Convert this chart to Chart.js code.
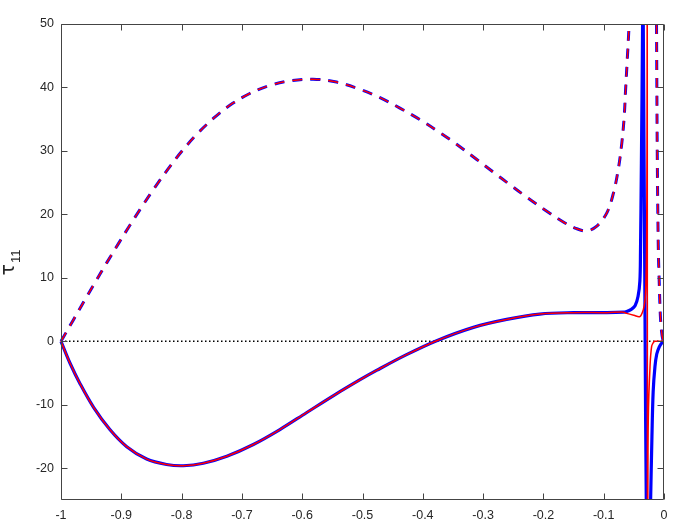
<!DOCTYPE html>
<html>
<head>
<meta charset="utf-8">
<script src="https://cdn.jsdelivr.net/npm/chart.js@4"></script>
<style>
  body { margin: 0; background: #fff; }
  canvas { display: block; }
</style>
</head>
<body>
<canvas id="chartTau" width="682" height="532"></canvas>
<script>
/*-------------------
    DATA
--------------------*/
const xTicks = [-1, -0.9, -0.8, -0.7, -0.6, -0.5, -0.4, -0.3, -0.2, -0.1, 0];
const yTicks = [-20, -10, 0, 10, 20, 30, 40, 50];

// solid curve, shared part (blue and red overlap)
const solidX = [-1, -0.985, -0.968, -0.946, -0.919, -0.891, -0.858, -0.825, -0.797, -0.764, -0.725, -0.681,
    -0.637, -0.593, -0.548, -0.504, -0.476, -0.427, -0.377, -0.316, -0.261, -0.206, -0.150, -0.095, -0.067];
const solidY = [0, -3.45, -6.75, -10.4, -13.9, -16.6, -18.55, -19.4, -19.6, -19.2, -18.1, -16.25,
    -13.9, -11.25, -8.55, -6.05, -4.55, -2.1, 0.1, 2.2, 3.45, 4.3, 4.52, 4.52, 4.6];

// blue solid near the singularity
const blueTailX = [-0.062, -0.055, -0.048, -0.043, -0.040, -0.039, -0.0375, -0.0355, -0.0350, -0.0290,
    -0.0255, -0.0222, -0.0200, -0.018, -0.015, -0.012, -0.008, -0.004, 0];
const blueTailY = [4.7, 5.0, 5.6, 7.1, 9.5, 14, 28, 50, 60, -30,
    -40, -25, -15, -8, -4, -2, -0.9, -0.3, 0];

// red solid near the singularity
const redTailX = [-0.062, -0.050, -0.040, -0.0343, -0.0315, -0.0300, -0.0290, -0.0282, -0.0278, -0.0274,
    -0.0268, -0.0260, -0.0232, -0.0205, -0.0170, -0.0150, 0];
const redTailY = [4.4, 4.1, 3.9, 5.0, 6.5, 9.2, 14.4, 30, 60, -40,
    -25, -12, -4, -0.8, -0.1, 0, 0];

// dashed curve (blue and red overlap)
const dashX = [-1, -0.980, -0.960, -0.944, -0.924, -0.905, -0.886, -0.866, -0.844, -0.822, -0.800, -0.775,
    -0.747, -0.720, -0.687, -0.656, -0.620, -0.582, -0.543, -0.504, -0.471, -0.438, -0.405, -0.371,
    -0.344, -0.311, -0.283, -0.255, -0.228, -0.195, -0.167, -0.145, -0.128, -0.112, -0.095, -0.084,
    -0.076, -0.070, -0.066, -0.064, -0.061, -0.058, -0.056, -0.0135, -0.0128, -0.0124, -0.0112, -0.0095,
    -0.0078, -0.006, -0.004, -0.002, 0];
const dashY = [0, 3.3, 6.6, 9.2, 12.4, 15.35, 18.25, 21.2, 24.3, 27.2, 29.9, 32.6,
    35.15, 37.2, 39.05, 40.25, 41.05, 41.3, 40.85, 39.7, 38.4, 36.75, 34.95, 32.85,
    31.05, 28.7, 26.65, 24.65, 22.75, 20.55, 18.8, 17.75, 17.4, 18.1, 20.2, 23.3,
    27.0, 31.2, 35.4, 39.1, 44.3, 50, 62, 62, 56, 50, 30, 15,
    9, 4, 1.5, 0.3, 0];

const zeroX = [-1, 0];
const zeroY = [0, 0];

const yLabel = 'τ';
const yLabelSub = '11';

/*-------------------
    HELPERS
--------------------*/
const pts = (xs, ys) => xs.map((x, i) => ({x: x, y: ys[i]}));

const boxPlugin = {
    id: 'box',
    afterDatasetsDraw(chart) {
        const {ctx, chartArea: a, scales} = chart;
        const L = Math.round(a.left) + 0.5, R = Math.round(a.right) - 0.5;
        const T = Math.round(a.top) + 0.5, B = Math.round(a.bottom) - 0.5;
        const len = 6;
        ctx.save();
        ctx.strokeStyle = '#444';
        ctx.lineWidth = 1;
        ctx.beginPath();
        ctx.rect(L, T, R - L, B - T);
        xTicks.forEach(v => {
            const px = Math.round(scales.x.getPixelForValue(v)) + 0.5;
            ctx.moveTo(px, B); ctx.lineTo(px, B - len);
            ctx.moveTo(px, T); ctx.lineTo(px, T + len);
        });
        yTicks.forEach(v => {
            const py = Math.round(scales.y.getPixelForValue(v)) + 0.5;
            ctx.moveTo(L, py); ctx.lineTo(L + len, py);
            ctx.moveTo(R, py); ctx.lineTo(R - len, py);
        });
        ctx.stroke();

        // y title: tau with subscript, rotated
        const cy = (a.top + a.bottom) / 2 + 1;
        ctx.translate(14, cy);
        ctx.rotate(-Math.PI / 2);
        ctx.fillStyle = '#262626';
        ctx.textBaseline = 'alphabetic';
        ctx.textAlign = 'left';
        ctx.font = '19px "DejaVu Sans", sans-serif';
        const w1 = ctx.measureText(yLabel).width;
        ctx.font = '13px "Liberation Sans", Arial, sans-serif';
        const w2 = ctx.measureText(yLabelSub).width;
        const x0 = -(w1 + w2) / 2;
        ctx.font = '19px "DejaVu Sans", sans-serif';
        ctx.fillText(yLabel, x0, 0);
        ctx.font = '13px "Liberation Sans", Arial, sans-serif';
        ctx.fillText(yLabelSub, x0 + w1 + 1, 6);
        ctx.restore();
    }
};

/*-------------------
    GRAPH TAU
--------------------*/
const canvas = document.getElementById('chartTau');
const tickFont = {family: '"Liberation Sans", Arial, sans-serif', size: 12.5};
const clip = {left: 3, right: 0, top: 0, bottom: 0};

new Chart(canvas, {
    type: 'line',
    data: {
        datasets: [
            {
                data: pts(dashX, dashY),
                borderColor: '#ff0000',
                borderWidth: 1.5,
                borderDash: [10, 8],
                order: 1
            },
            {
                data: pts(solidX.concat(redTailX), solidY.concat(redTailY)),
                borderColor: '#ff0000',
                borderWidth: 1.5,
                order: 2
            },
            {
                data: pts(dashX, dashY),
                borderColor: '#0000ff',
                borderWidth: 3,
                borderDash: [10, 8],
                order: 3
            },
            {
                data: pts(solidX.concat(blueTailX), solidY.concat(blueTailY)),
                borderColor: '#0000ff',
                borderWidth: 3.2,
                order: 4
            },
            {
                data: pts(zeroX, zeroY),
                borderColor: '#000000',
                borderWidth: 1.5,
                borderDash: [1.5, 2.5],
                tension: 0,
                order: 5
            }
        ]
    },
    options: {
        responsive: false,
        animation: false,
        parsing: false,
        tension: 0.35,
        pointRadius: 0,
        clip: clip,
        layout: {padding: {left: 0, top: 24, right: 18, bottom: 0}},
        plugins: {
            legend: {display: false},
            tooltip: {enabled: false},
            title: {display: false}
        },
        scales: {
            x: {
                type: 'linear',
                min: -1,
                max: 0,
                grid: {display: false, drawTicks: false},
                border: {display: false},
                afterBuildTicks: s => { s.ticks = xTicks.map(v => ({value: v})); },
                afterFit: s => { s.height = 32; },
                ticks: {
                    padding: 8,
                    color: '#262626',
                    font: tickFont,
                    maxRotation: 0,
                    autoSkip: false,
                    callback: v => String(Math.round(v * 10) / 10)
                }
            },
            y: {
                type: 'linear',
                min: -25,
                max: 50,
                grid: {display: false, drawTicks: false},
                border: {display: false},
                afterBuildTicks: s => { s.ticks = yTicks.map(v => ({value: v})); },
                afterFit: s => { s.width = 61; },
                ticks: {
                    padding: 7,
                    color: '#262626',
                    font: tickFont,
                    autoSkip: false
                }
            }
        }
    },
    plugins: [boxPlugin]
});
</script>
</body>
</html>
